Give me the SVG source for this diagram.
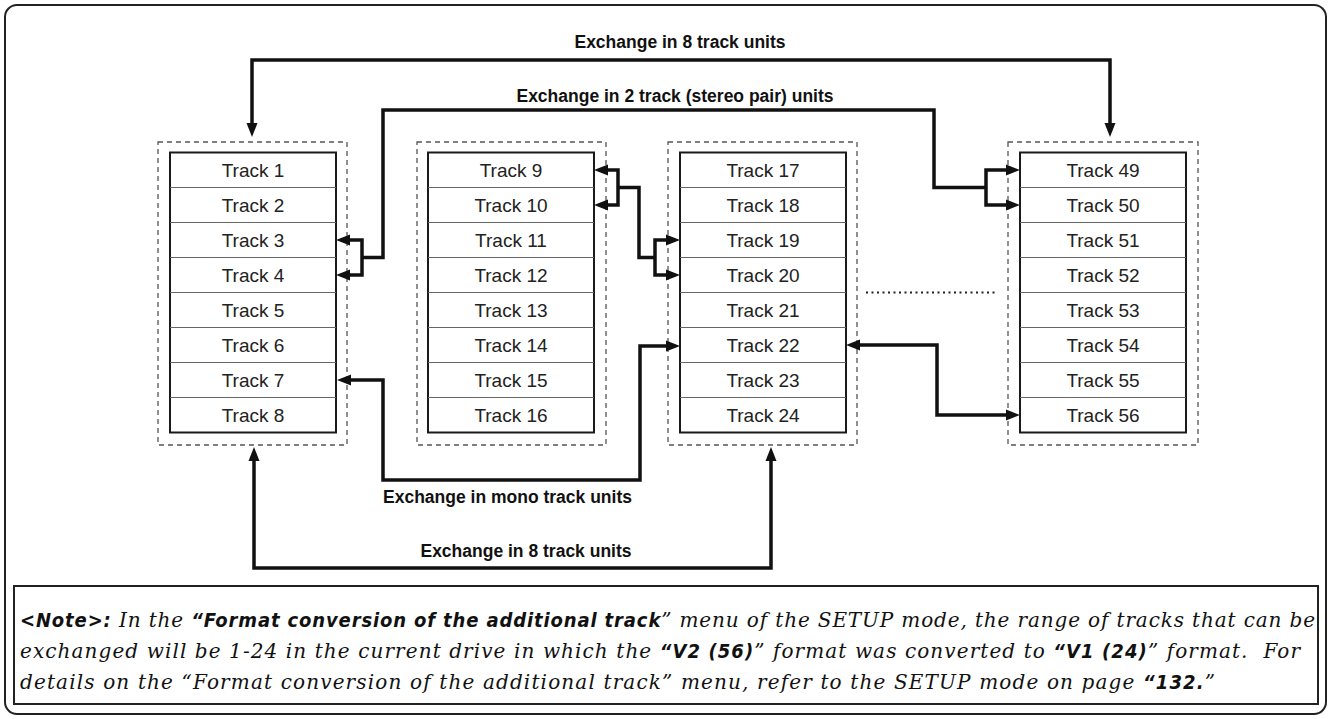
<svg xmlns="http://www.w3.org/2000/svg" width="1332" height="719" viewBox="0 0 1332 719">
<style>
.frame{fill:#fff;stroke:#222;stroke-width:2}
.grp{fill:none;stroke:#555;stroke-width:1.3;stroke-dasharray:5 4}
.box{fill:#fff;stroke:#1a1a1a;stroke-width:2}
.div{stroke:#666;stroke-width:1.2}
.tl{font-family:"Liberation Sans",Arial,sans-serif;font-size:19px;fill:#222;text-anchor:middle}
.lbl{font-family:"Liberation Sans",Arial,sans-serif;font-size:17.5px;font-weight:bold;fill:#111}
.con{fill:none;stroke:#111;stroke-width:3.5;stroke-linejoin:miter}
.dot{stroke:#222;stroke-width:2;stroke-dasharray:2 3.5}
.note{font-family:"DejaVu Serif","Liberation Serif",serif;font-style:italic;font-size:20px;fill:#111}
.nb{font-family:"DejaVu Sans","Liberation Sans",sans-serif;font-stretch:condensed;font-style:italic;font-weight:bold}
</style>
<defs>
<marker id="ah" markerUnits="userSpaceOnUse" markerWidth="16" markerHeight="12" refX="0" refY="5.5" orient="auto-start-reverse" viewBox="0 0 16 11">
<path d="M0,0 L14,5.5 L0,11 Z" fill="#111"/>
</marker>
</defs>
<rect class="frame" x="5" y="5" width="1321" height="709" rx="12"/>

<g id="column-1-8">
<rect class="grp" x="158" y="142" width="189" height="303"/>
<rect class="box" x="170" y="152.5" width="166" height="280"/>
<g class="div"><line x1="170" y1="187.5" x2="336" y2="187.5"/><line x1="170" y1="222.5" x2="336" y2="222.5"/><line x1="170" y1="257.5" x2="336" y2="257.5"/><line x1="170" y1="292.5" x2="336" y2="292.5"/><line x1="170" y1="327.5" x2="336" y2="327.5"/><line x1="170" y1="362.5" x2="336" y2="362.5"/><line x1="170" y1="397.5" x2="336" y2="397.5"/></g>
<g id="track-1"><text class="tl" x="253" y="177">Track 1</text></g>
<g id="track-2"><text class="tl" x="253" y="212">Track 2</text></g>
<g id="track-3"><text class="tl" x="253" y="247">Track 3</text></g>
<g id="track-4"><text class="tl" x="253" y="282">Track 4</text></g>
<g id="track-5"><text class="tl" x="253" y="317">Track 5</text></g>
<g id="track-6"><text class="tl" x="253" y="352">Track 6</text></g>
<g id="track-7"><text class="tl" x="253" y="387">Track 7</text></g>
<g id="track-8"><text class="tl" x="253" y="422">Track 8</text></g>
</g>

<g id="column-9-16">
<rect class="grp" x="417" y="142" width="189" height="303"/>
<rect class="box" x="428" y="152.5" width="166" height="280"/>
<g class="div"><line x1="428" y1="187.5" x2="594" y2="187.5"/><line x1="428" y1="222.5" x2="594" y2="222.5"/><line x1="428" y1="257.5" x2="594" y2="257.5"/><line x1="428" y1="292.5" x2="594" y2="292.5"/><line x1="428" y1="327.5" x2="594" y2="327.5"/><line x1="428" y1="362.5" x2="594" y2="362.5"/><line x1="428" y1="397.5" x2="594" y2="397.5"/></g>
<g id="track-9"><text class="tl" x="511" y="177">Track 9</text></g>
<g id="track-10"><text class="tl" x="511" y="212">Track 10</text></g>
<g id="track-11"><text class="tl" x="511" y="247">Track 11</text></g>
<g id="track-12"><text class="tl" x="511" y="282">Track 12</text></g>
<g id="track-13"><text class="tl" x="511" y="317">Track 13</text></g>
<g id="track-14"><text class="tl" x="511" y="352">Track 14</text></g>
<g id="track-15"><text class="tl" x="511" y="387">Track 15</text></g>
<g id="track-16"><text class="tl" x="511" y="422">Track 16</text></g>
</g>

<g id="column-17-24">
<rect class="grp" x="668" y="142" width="189" height="303"/>
<rect class="box" x="680" y="152.5" width="166" height="280"/>
<g class="div"><line x1="680" y1="187.5" x2="846" y2="187.5"/><line x1="680" y1="222.5" x2="846" y2="222.5"/><line x1="680" y1="257.5" x2="846" y2="257.5"/><line x1="680" y1="292.5" x2="846" y2="292.5"/><line x1="680" y1="327.5" x2="846" y2="327.5"/><line x1="680" y1="362.5" x2="846" y2="362.5"/><line x1="680" y1="397.5" x2="846" y2="397.5"/></g>
<g id="track-17"><text class="tl" x="763" y="177">Track 17</text></g>
<g id="track-18"><text class="tl" x="763" y="212">Track 18</text></g>
<g id="track-19"><text class="tl" x="763" y="247">Track 19</text></g>
<g id="track-20"><text class="tl" x="763" y="282">Track 20</text></g>
<g id="track-21"><text class="tl" x="763" y="317">Track 21</text></g>
<g id="track-22"><text class="tl" x="763" y="352">Track 22</text></g>
<g id="track-23"><text class="tl" x="763" y="387">Track 23</text></g>
<g id="track-24"><text class="tl" x="763" y="422">Track 24</text></g>
</g>

<g id="column-49-56">
<rect class="grp" x="1008" y="142" width="190" height="303"/>
<rect class="box" x="1020" y="152.5" width="166" height="280"/>
<g class="div"><line x1="1020" y1="187.5" x2="1186" y2="187.5"/><line x1="1020" y1="222.5" x2="1186" y2="222.5"/><line x1="1020" y1="257.5" x2="1186" y2="257.5"/><line x1="1020" y1="292.5" x2="1186" y2="292.5"/><line x1="1020" y1="327.5" x2="1186" y2="327.5"/><line x1="1020" y1="362.5" x2="1186" y2="362.5"/><line x1="1020" y1="397.5" x2="1186" y2="397.5"/></g>
<g id="track-49"><text class="tl" x="1103" y="177">Track 49</text></g>
<g id="track-50"><text class="tl" x="1103" y="212">Track 50</text></g>
<g id="track-51"><text class="tl" x="1103" y="247">Track 51</text></g>
<g id="track-52"><text class="tl" x="1103" y="282">Track 52</text></g>
<g id="track-53"><text class="tl" x="1103" y="317">Track 53</text></g>
<g id="track-54"><text class="tl" x="1103" y="352">Track 54</text></g>
<g id="track-55"><text class="tl" x="1103" y="387">Track 55</text></g>
<g id="track-56"><text class="tl" x="1103" y="422">Track 56</text></g>
</g>

<line class="dot" x1="866" y1="292.5" x2="998" y2="292.5"/>

<g id="connectors">
<path class="con" d="M252,123 V60 H1110 V123" marker-start="url(#ah)" marker-end="url(#ah)"/>
<path class="con" d="M362,257.5 H383 V110 H934 V187.5 H986"/>
<path class="con" d="M350,240 H362 V275 H350" marker-start="url(#ah)" marker-end="url(#ah)"/>
<path class="con" d="M1006,170 H986 V205 H1006" marker-start="url(#ah)" marker-end="url(#ah)"/>
<path class="con" d="M608,170 H618 V205 H608" marker-start="url(#ah)" marker-end="url(#ah)"/>
<path class="con" d="M618,187.5 H639 V257.5 H655"/>
<path class="con" d="M666,240 H655 V275 H666" marker-start="url(#ah)" marker-end="url(#ah)"/>
<path class="con" d="M351,380 H383 V480 H640 V346 H666" marker-start="url(#ah)" marker-end="url(#ah)"/>
<path class="con" d="M860,345 H937 V415 H1006" marker-start="url(#ah)" marker-end="url(#ah)"/>
<path class="con" d="M254,461 V568 H771 V461" marker-start="url(#ah)" marker-end="url(#ah)"/>
<text class="lbl" x="680" y="48" text-anchor="middle">Exchange in 8 track units</text>
<text class="lbl" x="675" y="102" text-anchor="middle">Exchange in 2 track (stereo pair) units</text>
<text class="lbl" x="383" y="503">Exchange in mono track units</text>
<text class="lbl" x="526" y="557" text-anchor="middle">Exchange in 8 track units</text>
</g>

<g id="note">
<rect class="frame" x="14" y="586" width="1304" height="118"/>
<text class="note" x="20" y="627" textLength="1295" lengthAdjust="spacing"><tspan class="nb">&lt;Note&gt;:</tspan> In the <tspan class="nb">“Format conversion of the additional track</tspan>” menu of the SETUP mode, the range of tracks that can be</text>
<text class="note" x="20" y="658" textLength="1280" lengthAdjust="spacing">exchanged will be 1-24 in the current drive in which the <tspan class="nb">“V2 (56)</tspan>” format was converted to <tspan class="nb">“V1 (24)</tspan>” format.&#160; For</text>
<text class="note" x="20" y="689" textLength="1195" lengthAdjust="spacing">details on the “Format conversion of the additional track” menu, refer to the SETUP mode on page <tspan class="nb">“132.</tspan>”</text>
</g>
</svg>
